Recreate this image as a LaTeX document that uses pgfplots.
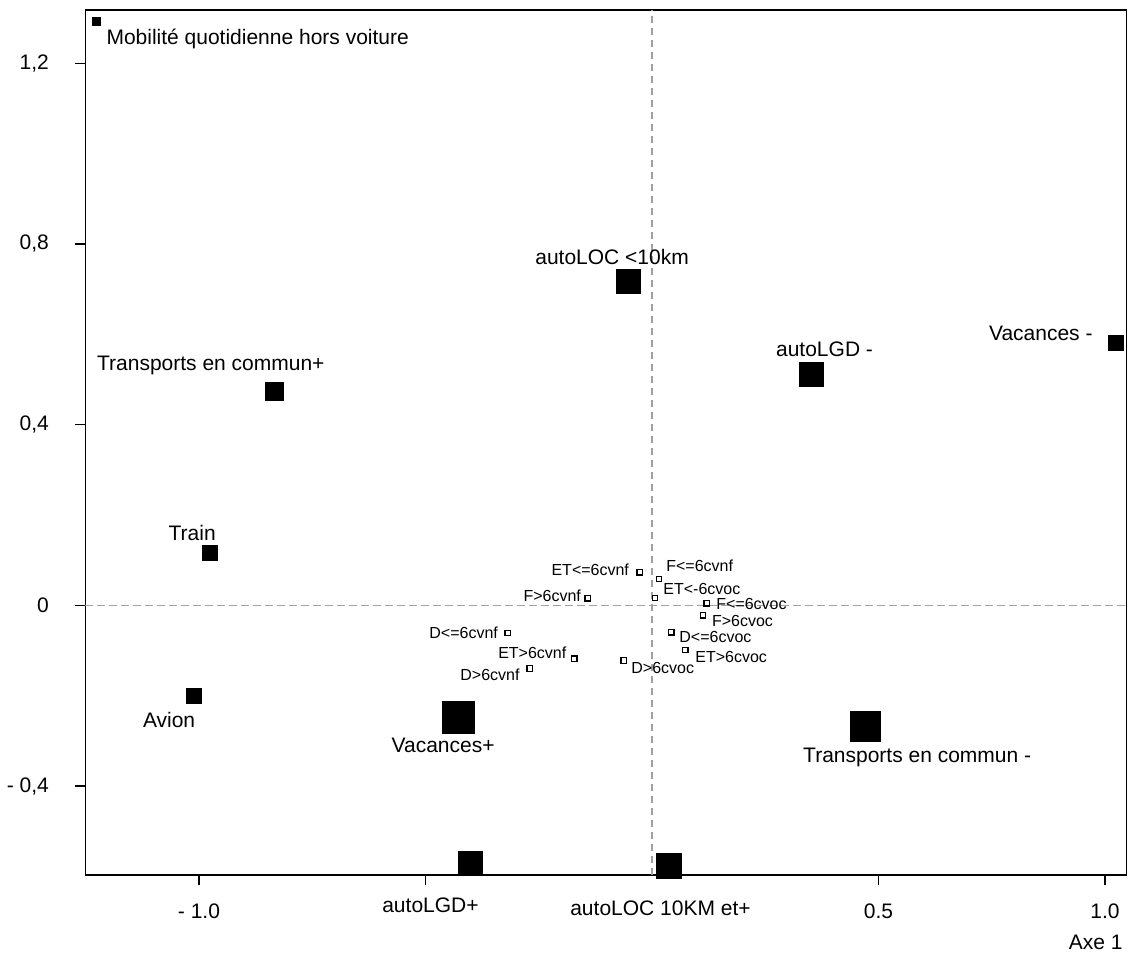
\documentclass[border=0pt]{standalone}
\usepackage{fontspec}
\setmainfont{Liberation Sans}
\usepackage{pgfplots}
\pgfplotsset{compat=1.18}
\definecolor{dashgray}{RGB}{160,160,160}
\tikzset{
  big/.style={font=\fontsize{10.5}{12}\selectfont, inner sep=0pt},
  sm/.style={font=\fontsize{8}{9.6}\selectfont, inner sep=0pt},
}
\begin{document}
\begin{tikzpicture}
\begin{axis}[
  scale only axis, width=520.7pt, height=432.5pt,
  xmin=-1.251, xmax=1.048, ymin=-0.597, ymax=1.318,
  clip=false,
  axis line style={black, line width=0.7pt},
  tick style={black, line width=0.7pt},
  tick align=outside, major tick length=5pt,
  xtick pos=bottom, ytick pos=left,
  xtick={-1,-0.5,0.5,1}, xticklabels={{- 1.0},{},{0.5},{1.0}},
  ytick={-0.4,0,0.4,0.8,1.2}, yticklabels={{- 0,4},{0},{0,4},{0,8},{1,2}},
  ticklabel style={font=\fontsize{10.5}{12}\selectfont, inner sep=0pt},
  xticklabel style={anchor=center, yshift=-13pt},
  yticklabel style={anchor=east, xshift=-13pt},
]
% reference lines
\draw[dashgray, line width=0.65pt, dash pattern=on 3.7pt off 2.3pt] (axis cs:0,-0.597) -- (axis cs:0,1.318);
\draw[dashgray, line width=0.65pt, dash pattern=on 3.7pt off 2.3pt] (axis cs:-1.251,0) -- (axis cs:1.048,0);

% filled squares by size
\addplot[only marks, mark=square*, mark size=2pt, mark options={draw=none, fill=black}] coordinates {(-1.226,1.293)};
\addplot[only marks, mark=square*, mark size=3.75pt, mark options={draw=none, fill=black}] coordinates {(-0.975,0.115) (-1.012,-0.201) (1.024,0.580)};
\addplot[only marks, mark=square*, mark size=4.5pt, mark options={draw=none, fill=black}] coordinates {(-0.834,0.474)};
\addplot[only marks, mark=square*, mark size=6pt, mark options={draw=none, fill=black}] coordinates {(0.351,0.512) (-0.051,0.718) (-0.400,-0.572)};
\addplot[only marks, mark=square*, mark size=6.25pt, mark options={draw=none, fill=black}] coordinates {(0.0375,-0.577)};
\addplot[only marks, mark=square*, mark size=7.5pt, mark options={draw=none, fill=black}] coordinates {(0.472,-0.269)};
\addplot[only marks, mark=square*, mark size=8pt, mark options={draw=none, fill=black}] coordinates {(-0.428,-0.248)};

% open small squares
\addplot[only marks, mark=square*, mark size=1.35pt, mark options={draw=black, fill=white, line width=0.6pt}] coordinates {
(-0.027,0.073) (0.0155,0.058) (0.0066,0.016) (-0.142,0.0155) (0.121,0.0044)
(0.1126,-0.022) (0.0427,-0.0598) (0.0735,-0.099) (-0.0625,-0.122)
(-0.1715,-0.118) (-0.270,-0.140) (-0.3186,-0.061)};

% big labels
\node[big, anchor=west] at (axis cs:-1.205,1.255) {Mobilité quotidienne hors voiture};
\node[big, anchor=east] at (axis cs:-0.722,0.532) {Transports en commun+};
\node[big] at (axis cs:-1.015,0.161) {Train};
\node[big] at (axis cs:-1.066,-0.254) {Avion};
\node[big] at (axis cs:0.381,0.567) {autoLGD -};
\node[big, anchor=east] at (axis cs:0.9735,0.603) {Vacances -};
\node[big] at (axis cs:-0.489,-0.665) {autoLGD+};
\node[big] at (axis cs:0.0188,-0.671) {autoLOC 10KM et+};
\node[big] at (axis cs:-0.088,0.771) {autoLOC <10km};
\node[big] at (axis cs:-0.461,-0.309) {Vacances+};
\node[big, anchor=west] at (axis cs:0.333,-0.336) {Transports en commun -};

% small labels
\node[sm, anchor=east] at (axis cs:-0.050,0.078) {ET<=6cvnf};
\node[sm, anchor=west] at (axis cs:0.0309,0.087) {F<=6cvnf};
\node[sm, anchor=west] at (axis cs:0.0243,0.0354) {ET<-6cvoc};
\node[sm, anchor=east] at (axis cs:-0.156,0.0206) {F>6cvnf};
\node[sm, anchor=west] at (axis cs:0.1413,0.0029) {F<=6cvoc};
\node[sm, anchor=west] at (axis cs:0.1318,-0.0341) {F>6cvoc};
\node[sm, anchor=west] at (axis cs:0.0596,-0.0708) {D<=6cvoc};
\node[sm, anchor=west] at (axis cs:0.0949,-0.1138) {ET>6cvoc};
\node[sm, anchor=west] at (axis cs:-0.0464,-0.1381) {D>6cvoc};
\node[sm, anchor=east] at (axis cs:-0.1883,-0.106) {ET>6cvnf};
\node[sm, anchor=east] at (axis cs:-0.2914,-0.154) {D>6cvnf};
\node[sm, anchor=east] at (axis cs:-0.3393,-0.0598) {D<=6cvnf};

\node[big, anchor=east] at ([shift={(-1.85pt,-33.5pt)}]rel axis cs:1,0) {Axe 1};

\coordinate (SW) at (rel axis cs:0,0);
\coordinate (NE) at (rel axis cs:1,1);
\end{axis}
\path ([shift={(-42.65pt,-39.5pt)}]SW) rectangle ([shift={(4.65pt,5pt)}]NE);
\end{tikzpicture}
\end{document}
